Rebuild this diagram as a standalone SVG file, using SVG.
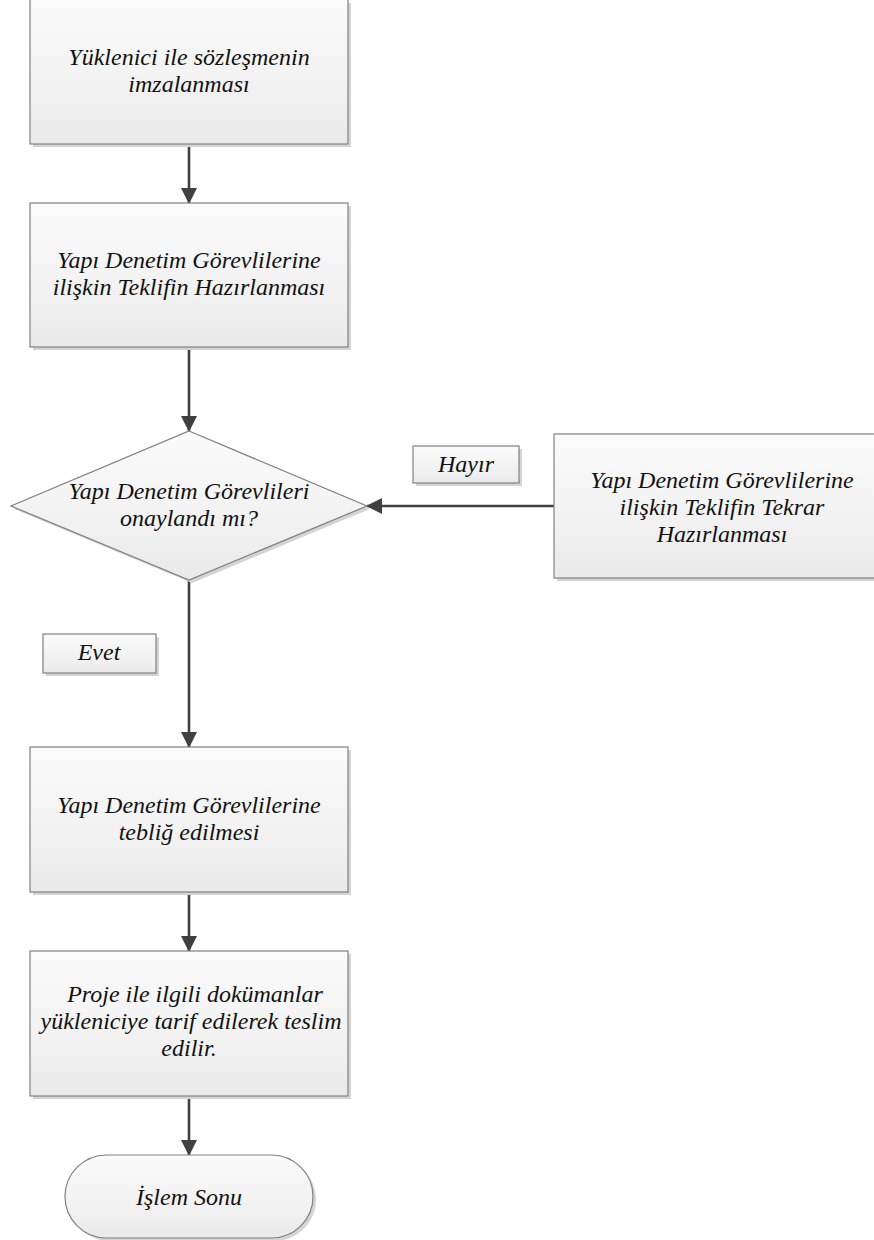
<svg xmlns="http://www.w3.org/2000/svg" width="874" height="1240" viewBox="0 0 874 1240">
<defs>
<linearGradient id="g" x1="0" y1="0" x2="0" y2="1">
<stop offset="0" stop-color="#fbfbfb"/>
<stop offset="0.7" stop-color="#f0f0f0"/>
<stop offset="1" stop-color="#e9e9e9"/>
</linearGradient>
<marker id="ah" markerWidth="16" markerHeight="16" viewBox="0 0 16 16" refX="15" refY="8" orient="auto" markerUnits="userSpaceOnUse">
<path d="M0,0 L16,8 L0,16 Z" fill="#404040"/>
</marker>
<style>
.box{fill:url(#g);stroke:#808080;stroke-width:1.2}
.sh{fill:#d4d4d4}
.c{stroke:#404040;stroke-width:2.6;fill:none;marker-end:url(#ah)}
</style>
</defs>
<rect width="874" height="1240" fill="#fff"/>
<g id="connectors">
<line class="c" x1="189" y1="144" x2="189" y2="203"/>
<line class="c" x1="189" y1="347" x2="189" y2="431"/>
<line class="c" x1="554" y1="506" x2="367" y2="506"/>
<line class="c" x1="189" y1="580" x2="189" y2="747"/>
<line class="c" x1="189" y1="892" x2="189" y2="951"/>
<line class="c" x1="189" y1="1096" x2="189" y2="1155"/>
</g>
<g id="nodes" font-family="Liberation Serif, Times New Roman, serif" font-style="italic" font-size="24" fill="#111" text-anchor="middle">
<g id="n1">
<rect class="sh" x="33" y="3" width="318" height="144"/>
<rect class="box" x="30" y="-2" width="318" height="146"/>
<text x="189" y="65">Yüklenici ile sözleşmenin</text>
<text x="189" y="92">imzalanması</text>
</g>
<g id="n2">
<rect class="sh" x="33" y="206" width="318" height="144"/>
<rect class="box" x="30" y="203" width="318" height="144"/>
<text x="189" y="268">Yapı Denetim Görevlilerine</text>
<text x="189" y="295">ilişkin Teklifin Hazırlanması</text>
</g>
<g id="n3">
<polygon class="sh" points="192,434 370,509 192,583 14,509"/>
<polygon class="box" points="189,431 367,506 189,580 11,506"/>
<text x="189" y="499">Yapı Denetim Görevlileri</text>
<text x="189" y="526">onaylandı mı?</text>
</g>
<g id="n4">
<rect class="sh" x="557" y="437" width="330" height="144"/>
<rect class="box" x="554" y="434" width="336" height="144"/>
<text x="722" y="488">Yapı Denetim Görevlilerine</text>
<text x="722" y="515">ilişkin Teklifin Tekrar</text>
<text x="722" y="542">Hazırlanması</text>
</g>
<g id="l-hayir">
<rect class="sh" x="416" y="449" width="106" height="37"/>
<rect class="box" x="413" y="446" width="106" height="37"/>
<text x="466" y="472">Hayır</text>
</g>
<g id="l-evet">
<rect class="sh" x="46" y="637" width="113" height="39"/>
<rect class="box" x="43" y="634" width="113" height="39"/>
<text x="99" y="660">Evet</text>
</g>
<g id="n5">
<rect class="sh" x="33" y="750" width="318" height="145"/>
<rect class="box" x="30" y="747" width="318" height="145"/>
<text x="189" y="813">Yapı Denetim Görevlilerine</text>
<text x="189" y="840">tebliğ edilmesi</text>
</g>
<g id="n6">
<rect class="sh" x="33" y="954" width="318" height="145"/>
<rect class="box" x="30" y="951" width="318" height="145"/>
<text x="195" y="1002">Proje ile ilgili dokümanlar</text>
<text x="191" y="1029">yükleniciye tarif edilerek teslim</text>
<text x="189" y="1056">edilir.</text>
</g>
<g id="n7">
<rect class="sh" x="68" y="1158" width="248" height="83" rx="41.5"/>
<rect class="box" x="65" y="1155" width="248" height="83" rx="41.5"/>
<text x="189" y="1205">İşlem Sonu</text>
</g>
</g>
</svg>
